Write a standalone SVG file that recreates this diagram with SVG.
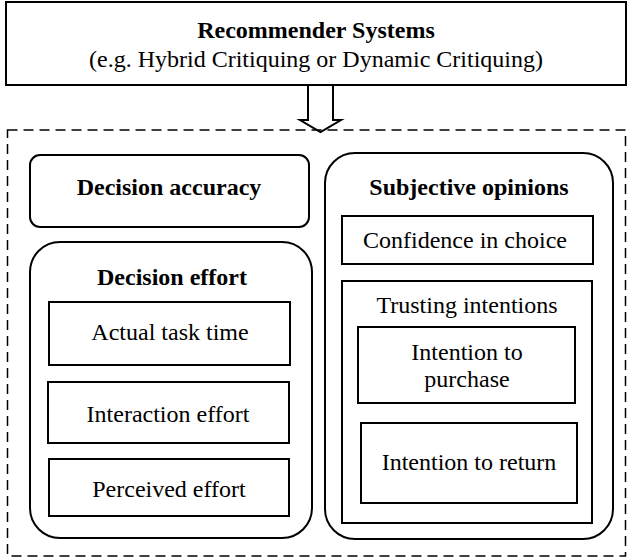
<svg xmlns="http://www.w3.org/2000/svg" width="628" height="558" viewBox="0 0 628 558">
<style>
text{font-family:'Liberation Serif','Times New Roman','DejaVu Serif',serif;font-size:24px;fill:#000;text-anchor:middle}
.b{font-weight:bold}
.box{fill:#fff;stroke:#000;stroke-width:2}
.dash{fill:none;stroke:#000;stroke-width:1.5;stroke-dasharray:10,6}
</style>
<rect width="628" height="558" fill="#fff"/>
<g id="recommender">
<rect class="box" x="6" y="2" width="620" height="83"/>
<text class="b" x="316" y="38">Recommender Systems</text>
<text x="316" y="67">(e.g. Hybrid Critiquing or Dynamic Critiquing)</text>
</g>
<g id="connectors">
<path d="M308,86 V120 H300 L320.5,132 L341,120 H333 V86" fill="#fff" stroke="#000" stroke-width="2" stroke-linejoin="miter"/>
</g>
<g id="outcomes">
<rect class="dash" x="7.5" y="130" width="618" height="426"/>
</g>
<g id="decision-accuracy">
<rect class="box" x="30" y="155" width="279" height="72" rx="10"/>
<text class="b" x="169" y="195">Decision accuracy</text>
</g>
<g id="decision-effort">
<rect class="box" x="30" y="242" width="282" height="296" rx="30"/>
<text class="b" x="172" y="285">Decision effort</text>
</g>
<g id="actual-task-time">
<rect class="box" x="49" y="302" width="241" height="63"/>
<text x="170" y="340">Actual task time</text>
</g>
<g id="interaction-effort">
<rect class="box" x="48" y="382" width="241" height="61"/>
<text x="168" y="422">Interaction effort</text>
</g>
<g id="perceived-effort">
<rect class="box" x="49" y="459" width="240" height="57"/>
<text x="169" y="497">Perceived effort</text>
</g>
<g id="subjective-opinions">
<rect class="box" x="325" y="153" width="288" height="386" rx="30"/>
<text class="b" x="469" y="195">Subjective opinions</text>
</g>
<g id="confidence">
<rect class="box" x="342" y="216" width="251" height="48"/>
<text x="465" y="248">Confidence in choice</text>
</g>
<g id="trusting-intentions">
<rect class="box" x="342" y="281" width="250" height="242"/>
<text x="467" y="313">Trusting intentions</text>
</g>
<g id="intention-purchase">
<rect class="box" x="358" y="327" width="217" height="76"/>
<text x="467" y="360">Intention to</text>
<text x="467" y="387">purchase</text>
</g>
<g id="intention-return">
<rect class="box" x="361" y="423" width="216" height="80"/>
<text x="469" y="470">Intention to return</text>
</g>
</svg>
